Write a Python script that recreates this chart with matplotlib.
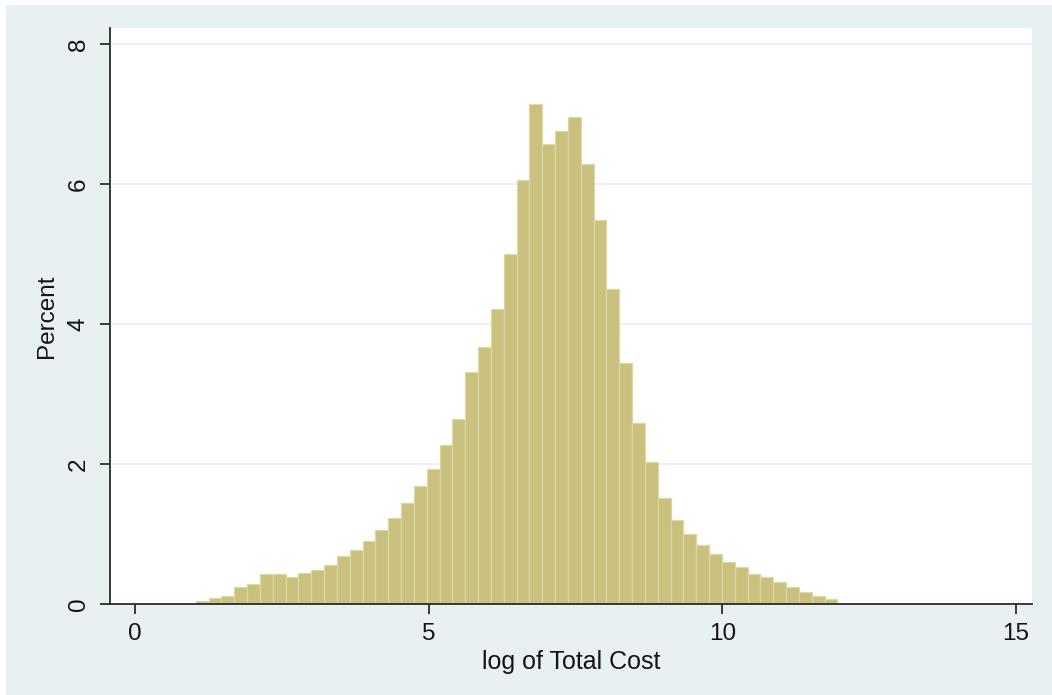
"""
    Histogram of log total cost (percent per bin)
"""

import numpy as np
import matplotlib.pyplot as plt
from matplotlib.patches import Rectangle

# 50 equal-width bins starting at the smallest observed value
bin_start = 1.034
bin_width = 0.2185
percent = [
    0.04, 0.09, 0.12, 0.25, 0.28, 0.43, 0.43, 0.38, 0.45, 0.48,
    0.56, 0.69, 0.77, 0.90, 1.06, 1.23, 1.44, 1.68, 1.93, 2.27,
    2.64, 3.31, 3.67, 4.21, 5.00, 6.06, 7.14, 6.57, 6.76, 6.96,
    6.29, 5.49, 4.50, 3.44, 2.58, 2.03, 1.52, 1.20, 1.00, 0.85,
    0.71, 0.60, 0.53, 0.43, 0.38, 0.32, 0.25, 0.17, 0.12, 0.07,
]
x_ticks = [0, 5, 10, 15]
y_ticks = [0, 2, 4, 6, 8]

plt.rcParams['font.family'] = ['Liberation Sans', 'DejaVu Sans']

BG = '#E8F0F2'
FILL = '#C9C17D'
EDGE = '#DDD8A6'
INK = '#141418'

fig = plt.figure(figsize=(10.52, 6.95), dpi=100, facecolor='white')
# light graph region (thin white margin at top and left)
fig.patches.append(Rectangle((6 / 1052, 0), 1, 1 - 5 / 695,
                             transform=fig.transFigure, facecolor=BG,
                             edgecolor='none', zorder=0))

ax = fig.add_axes([110 / 1052, 1 - 604 / 695, 922 / 1052, 576 / 695])
ax.set_zorder(2)
ax.set_facecolor('white')

lefts = bin_start + bin_width * np.arange(len(percent))
ax.bar(lefts, percent, width=bin_width, align='edge',
       color=FILL, edgecolor=EDGE, linewidth=0.9, zorder=3)

ax.set_xlim(-0.426, 15.273)
ax.set_ylim(0, 8.229)

ax.set_xticks(x_ticks)
ax.set_yticks(y_ticks)
ax.tick_params(axis='both', direction='out', length=7.5, width=1.3,
               color='#2b2b2b', labelsize=17.5, labelcolor=INK)
ax.tick_params(axis='x', pad=6)
ax.tick_params(axis='y', pad=7)
for lab in ax.get_yticklabels():
    lab.set_rotation(90)
    lab.set_va('center')

# horizontal grid lines at the labelled values
for v in y_ticks[1:]:
    ax.axhline(v, color='#E8F0F4', linewidth=1.2, zorder=1)

for side in ('top', 'right'):
    ax.spines[side].set_visible(False)
for side in ('left', 'bottom'):
    ax.spines[side].set_color('#2b2b2b')
    ax.spines[side].set_linewidth(1.3)
    ax.spines[side].set_zorder(4)

ax.set_xlabel('log of Total Cost', fontsize=18, color=INK, labelpad=4)
ax.set_ylabel('Percent', fontsize=17.5, color=INK, labelpad=7)

fig.savefig('out.png', dpi=100, facecolor=fig.get_facecolor())
